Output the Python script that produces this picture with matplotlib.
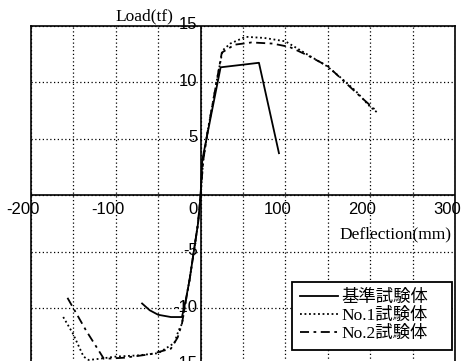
import matplotlib
matplotlib.use("Agg")
import matplotlib.pyplot as plt
from matplotlib.transforms import offset_copy

# ---- data ----
base_x = [-69, -60, -50, -35, -22, -18, -13, -8, -3, 0, 2, 7, 13, 23.6, 68.8, 92.4]
base_y = [-9.6, -10.2, -10.6, -10.8, -10.8, -9.5, -7.5, -5.0, -2.5, 0, 3.1, 5.0, 7.3, 11.3, 11.7, 3.7]

no1_x = [-162, -151, -138, -132, -120, -100, -75, -50, -31, -26, -22, -18, -13, -8, -3, 0,
         3, 8, 14, 20, 26, 35, 53, 75, 100, 120, 149, 165, 183, 200, 210]
no1_y = [-10.8, -12.2, -14.3, -14.6, -14.5, -14.3, -14.2, -14.0, -13.1, -12.0, -11.4, -9.6, -7.5, -5.0, -2.5, 0,
         3.0, 5.5, 8.0, 10.5, 12.8, 13.4, 14.0, 13.9, 13.6, 12.7, 11.4, 10.4, 9.2, 7.8, 7.2]

no2_x = [-157, -135, -114, -90, -60, -35, -27, -22, -18, -13, -8, -3, 0,
         3, 8, 14, 20, 25, 40, 60, 85, 105, 125, 150, 170, 190, 205]
no2_y = [-9.1, -12.0, -14.5, -14.4, -14.1, -13.6, -12.6, -11.4, -9.6, -7.5, -5.0, -2.5, 0,
         3.0, 5.5, 8.0, 10.5, 12.6, 13.3, 13.5, 13.4, 13.1, 12.4, 11.4, 10.0, 8.6, 7.6]

series_labels = ["基準試験体", "No.1試験体", "No.2試験体"]
xtick_vals = [-200, -100, 0, 100, 200, 300]
ytick_vals = [-15, -10, -5, 5, 10, 15]
x_label = "Deflection(mm)"
y_label = "Load(tf)"

# ---- figure ----
W, H = 461, 361
fig = plt.figure(figsize=(W / 100, H / 100), dpi=100)
ax = fig.add_axes([31 / W, (H - 364.5) / H, 424 / W, 339 / H])
ax.set_xlim(-200, 300)
ax.set_ylim(-15, 15)

ax.set_xticks(list(range(-200, 301, 50)))
ax.set_yticks(list(range(-15, 16, 5)))
ax.tick_params(length=0, labelbottom=False, labelleft=False)
ax.grid(True, color="black", linestyle=(0, (1, 2)), linewidth=0.9)
for s in ax.spines.values():
    s.set_linewidth(1.2)
    s.set_color("black")
ax.axhline(0, color="black", lw=1.2, zorder=2)
ax.axvline(0, color="black", lw=1.2, zorder=2)

lw = 1.3
ax.plot(base_x, base_y, color="black", lw=lw, linestyle="-", label=series_labels[0], zorder=3)
ax.plot(no1_x, no1_y, color="black", lw=lw, linestyle=(0, (1, 1.5)), label=series_labels[1], zorder=3)
ax.plot(no2_x, no2_y, color="black", lw=lw, linestyle=(0, (5, 2.5, 1.5, 2.5)), label=series_labels[2], zorder=3)

# tick labels placed next to the centre axes
tx = offset_copy(ax.transData, fig=fig, x=-8, y=-14, units="dots")
for v in xtick_vals:
    ax.text(v, 0, str(v), transform=tx, ha="center", va="center",
            fontsize=12, family="Liberation Sans", clip_on=False)
ty = offset_copy(ax.transData, fig=fig, x=-3, y=1, units="dots")
for v in ytick_vals:
    ax.text(0, v, str(v), transform=ty, ha="right", va="center",
            fontsize=12, family="Liberation Sans", clip_on=False)

fig.text(144 / W, 1 - 16 / H, y_label, ha="center", va="center",
         fontsize=12.5, family="Liberation Serif")
fig.text(395 / W, 1 - 234 / H, x_label, ha="center", va="center",
         fontsize=12.5, family="Liberation Serif")

leg = ax.legend(loc="lower left",
                bbox_to_anchor=((292 - 31) / 424, (364.5 - 350) / 339, 160 / 424, 67 / 339),
                mode="expand",
                borderaxespad=0, frameon=True, fancybox=False, edgecolor="black",
                framealpha=1, handlelength=2.2, handletextpad=0.2, borderpad=0.45,
                labelspacing=0.12,
                prop={"family": ["Liberation Serif", "Noto Sans CJK JP"], "size": 12.5})
leg.get_frame().set_linewidth(1.3)

fig.savefig("out.png", dpi=100)
